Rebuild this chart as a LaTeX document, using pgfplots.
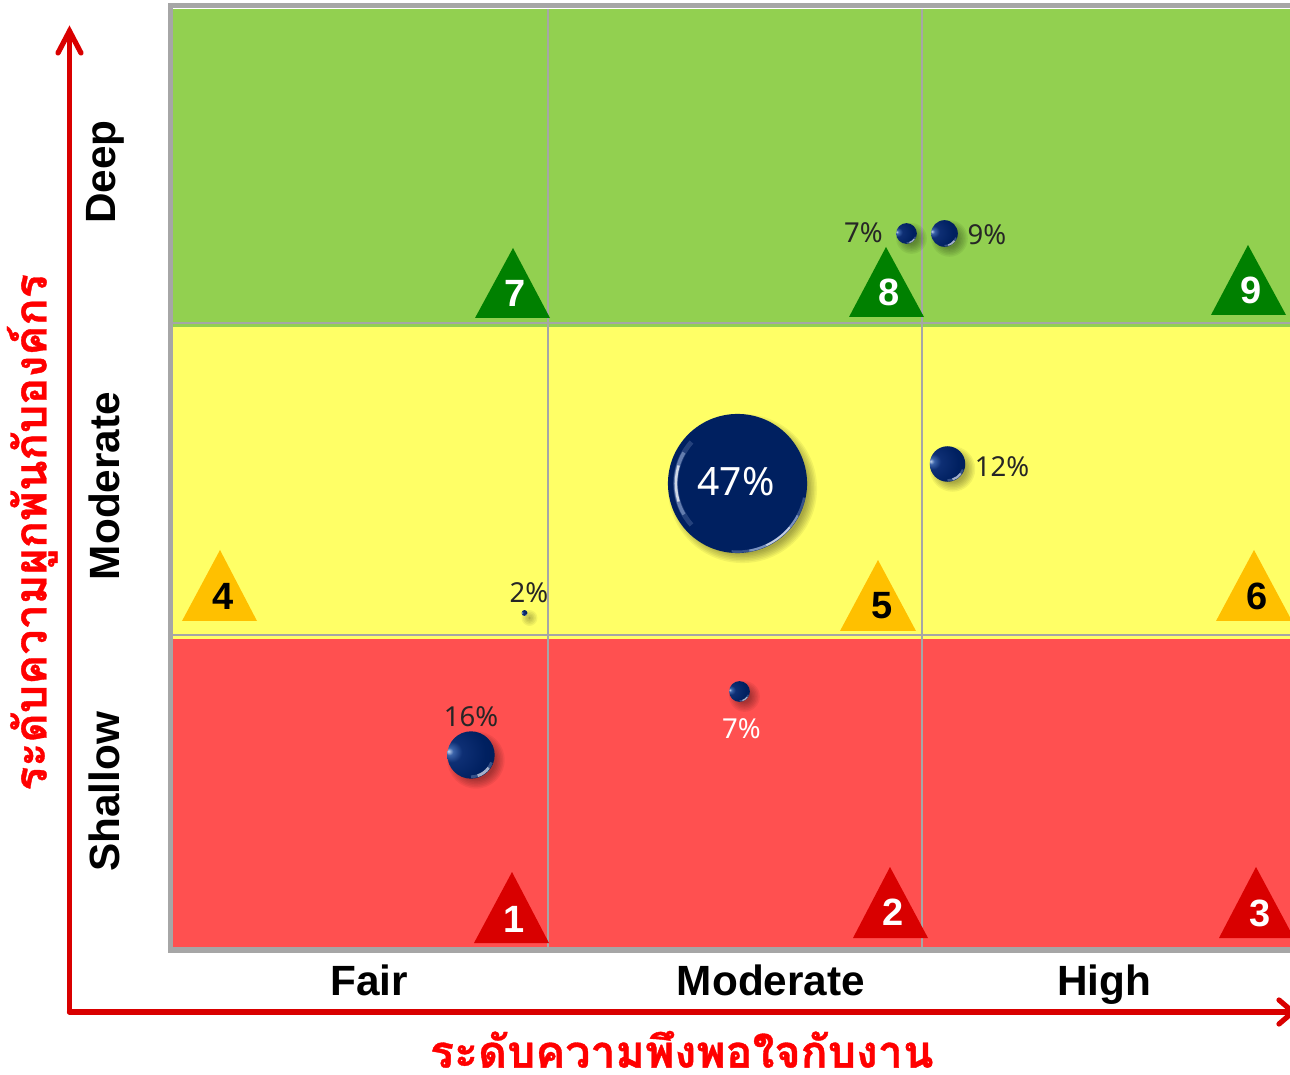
\documentclass[border=0pt]{standalone}
\usepackage{fontspec}
\setmainfont{Liberation Sans}
\newfontfamily\valuefont{Noto Sans}
\newfontfamily\thaifont[Script=Thai,FakeBold=0.8]{Loma}
\usepackage{pgfplots}
\usepackage{pgfplotstable}
\pgfplotsset{compat=1.18}

\definecolor{zoneGreen}{HTML}{92D050}
\definecolor{zoneYellow}{HTML}{FFFF66}
\definecolor{zoneRed}{HTML}{FF5050}
\definecolor{frameGray}{HTML}{A6A6A6}
\definecolor{arrowRed}{HTML}{D90000}
\definecolor{triRed}{HTML}{D90000}
\definecolor{triAmber}{HTML}{FFC000}
\definecolor{triGreen}{HTML}{008000}
\definecolor{navy}{HTML}{002060}
\definecolor{navyDeep}{HTML}{001A50}
\definecolor{navyEdge}{HTML}{00103A}
\definecolor{ballGlint}{HTML}{C8D8F0}
\definecolor{ballSoft}{HTML}{3A62A8}
\definecolor{ballMid}{HTML}{0E2F74}
\definecolor{rimBlue}{HTML}{B4C8EC}
\definecolor{labelDark}{HTML}{262626}

% Shadings for the two bubble styles
\pgfdeclareradialshading{glossball}{\pgfpoint{-24bp}{4bp}}{%
  color(0bp)=(ballGlint);
  color(4bp)=(ballSoft);
  color(11bp)=(ballMid);
  color(30bp)=(navy);
  color(58bp)=(navyDeep);
  color(75bp)=(navyEdge)}
\pgfdeclareradialshading{glossdisc}{\pgfpointorigin}{%
  color(0bp)=(navy);
  color(43bp)=(navy);
  color(47bp)=(navyDeep);
  color(50bp)=(navyEdge)}

% Soft drop shadow: stacked translucent circles
\newcommand{\softshadow}{%
  \pgfscope
    \pgfsetfillcolor{black}%
    \pgfsetfillopacity{0.055}%
    \foreach \d in {5,3.5,2,0.5,-1,-2.5,-4}{%
      \pgfpathcircle{\pgfpoint{5pt}{-5pt}}{max(\pgfplotmarksize+\d pt,0.6pt)}%
      \pgfusepath{fill}%
    }%
  \endpgfscope}

\newcommand{\rimarc}[6]{% start, end, radius factor, width factor, colour, opacity
  \pgfscope
    \pgfsetstrokecolor{#5}%
    \pgfsetstrokeopacity{#6}%
    \pgfsetlinewidth{#4*\pgfplotmarksize}%
    \pgfpathmoveto{\pgfpointpolar{#1}{#3*\pgfplotmarksize}}%
    \pgfpatharc{#1}{#2}{#3*\pgfplotmarksize}%
    \pgfusepath{stroke}%
  \endpgfscope}

\pgfdeclareplotmark{glossy sphere}{%
  \softshadow
  \pgfscope
    \pgfpathcircle{\pgfpointorigin}{\pgfplotmarksize}%
    \pgfshadepath{glossball}{0}%
    \pgfusepath{discard}%
  \endpgfscope
  \rimarc{-90}{-20}{0.92}{0.12}{rimBlue}{0.3}%
  \rimarc{-72}{-36}{0.92}{0.12}{white}{0.55}%
}
\pgfdeclareplotmark{glossy disc}{%
  \softshadow
  \pgfscope
    \pgfpathcircle{\pgfpointorigin}{\pgfplotmarksize}%
    \pgfshadepath{glossdisc}{0}%
    \pgfusepath{discard}%
  \endpgfscope
  \rimarc{138}{222}{0.89}{0.07}{rimBlue}{0.2}%
  \rimarc{150}{210}{0.89}{0.05}{rimBlue}{0.45}%
  \rimarc{163}{197}{0.885}{0.035}{white}{0.7}%
  \rimarc{-95}{-12}{0.98}{0.035}{rimBlue}{0.3}%
  \rimarc{-80}{-28}{0.98}{0.03}{rimBlue}{0.55}%
  \rimarc{-65}{-40}{0.98}{0.025}{white}{0.55}%
}

% Bubble positions and their percentages; lx, ly place the value label
\pgfplotstableread{
x      y      v   lx     ly
944.5  840.5  9   42.5   -1.5
906.5  840.5  7   -43    0.5
947.5  610    12  54.5   -3
524.5  461    2   4.5    20
471    319    16  0      38
}\labelledDark
\pgfplotstableread{
x      y      v   lx     ly
739.5  382.5  7   2      -37.5
}\labelledWhite
\pgfplotstableread{
x      y      v   lx     ly
737.5  590.5  47  -1.5   1.5
}\labelledLarge

\pgfplotsset{
  bubble/.style={
    only marks, scatter, forget plot,
    point meta=\thisrow{v},
    visualization depends on={1.48*\thisrow{v} \as \rad},
    visualization depends on={\thisrow{lx} \as \lx},
    visualization depends on={\thisrow{ly} \as \ly},
    nodes near coords*={\pgfmathprintnumber[fixed,precision=0]{\pgfplotspointmeta}\%},
    nodes near coords style={anchor=center, inner sep=0pt, xshift=\lx pt, yshift=\ly pt},
    scatter/@pre marker code/.append style={/tikz/mark size=\rad},
  },
  zone/.style={forget plot, draw=none, fill=#1},
  tri/.style={forget plot, draw=none, fill=#1},
  redarrow/.style={forget plot, arrowRed, line width=5.2pt, line cap=round, line join=miter},
}

\begin{document}
\begin{tikzpicture}
\useasboundingbox (-172pt,-126pt) rectangle (1118pt,948pt);
\begin{axis}[
  scale only axis, width=1118pt, height=943pt,
  xmin=172, xmax=1290, ymin=126, ymax=1069,
  clip=false,
  axis line style={draw=none},
  major tick length=0pt,
  /pgf/number format/assume math mode=true,
  xtick={369,771,1104},
  xticklabels={Fair,Moderate,High},
  ytick={282,588,902},
  yticklabels={Shallow,Moderate,\raisebox{4pt}{Deep}},
  tick label style={font=\fontsize{42.3}{42}\selectfont\bfseries, text=black},
  xticklabel style={anchor=base, yshift=-47pt},
  yticklabel style={rotate=90, anchor=base, yshift=52pt},
  xlabel={\thaifont\bfseries ระดับความพึงพอใจกับงาน},
  xlabel style={at={(axis description cs:0.456,-0.1075)}, anchor=center,
    inner sep=0pt, text=red, font=\fontsize{44.7}{45}\selectfont},
  ylabel={\thaifont\bfseries ระดับความผูกพันกับองค์กร},
  ylabel style={at={(axis description cs:-0.125,0.4406)}, anchor=center, rotate=0,
    inner sep=0pt, text=red, font=\fontsize{45}{45}\selectfont},
]
% Frame
\addplot[zone=frameGray] coordinates {(168,1071)(1290,1071)(1290,1066)(168,1066)} --cycle;
\addplot[zone=frameGray] coordinates {(168,1071)(173,1071)(173,121)(168,121)} --cycle;
\addplot[zone=frameGray] coordinates {(168,127)(1290,127)(1290,121)(168,121)} --cycle;

% Engagement bands
\addplot[zone=zoneGreen]  coordinates {(173,1065)(1290,1065)(1290,747)(173,747)} --cycle;
\addplot[zone=zoneYellow] coordinates {(173,747)(1290,747)(1290,435)(173,435)} --cycle;
\addplot[zone=zoneRed]    coordinates {(173,435)(1290,435)(1290,127)(173,127)} --cycle;

% Dividers
\addplot[forget plot, frameGray, line width=2.5pt] coordinates {(173,751)(1290,751)};
\addplot[forget plot, frameGray, line width=2pt]   coordinates {(173,439)(1290,439)};
\addplot[forget plot, frameGray, line width=2pt]   coordinates {(548,1065)(548,127)};
\addplot[forget plot, frameGray, line width=2pt]   coordinates {(921.5,1065)(921.5,127)};

% Numbered cell markers
\addplot[tri=triGreen] coordinates {(475,756)(550,756)(513,826)} --cycle;
\addplot[tri=triGreen] coordinates {(849,757)(924,757)(886,827)} --cycle;
\addplot[tri=triGreen] coordinates {(1211,759)(1286,759)(1248,829)} --cycle;
\addplot[tri=triAmber] coordinates {(182,453)(257,453)(220,524)} --cycle;
\addplot[tri=triAmber] coordinates {(840,443)(916,443)(878,514)} --cycle;
\addplot[tri=triAmber] coordinates {(1216,453)(1292,453)(1254,524)} --cycle;
\addplot[tri=triRed]   coordinates {(474,131)(549,131)(512,202)} --cycle;
\addplot[tri=triRed]   coordinates {(853,136)(928,136)(890,207)} --cycle;
\addplot[tri=triRed]   coordinates {(1219,136)(1294,136)(1256,207)} --cycle;

\tikzset{cellnum/.style={font=\fontsize{38}{38}\selectfont\bfseries, inner sep=0pt, text=#1}}
\node[cellnum=white] at (axis cs:515,781) {7};
\node[cellnum=white] at (axis cs:889,782) {8};
\node[cellnum=white] at (axis cs:1251,784) {9};
\node[cellnum=black] at (axis cs:223,478) {4};
\node[cellnum=black] at (axis cs:882,468) {5};
\node[cellnum=black] at (axis cs:1257,478) {6};
\node[cellnum=white] at (axis cs:514,155) {1};
\node[cellnum=white] at (axis cs:893,162) {2};
\node[cellnum=white] at (axis cs:1260,161) {3};

% Bubbles
\addplot[bubble, mark=glossy sphere,
  nodes near coords style={text=labelDark, font=\valuefont\fontsize{27.5}{27}\selectfont}]
  table {\labelledDark};
\addplot[bubble, mark=glossy sphere,
  nodes near coords style={text=white, font=\valuefont\fontsize{27.5}{27}\selectfont}]
  table {\labelledWhite};
\addplot[bubble, mark=glossy disc,
  nodes near coords style={text=white, font=\valuefont\fontsize{39}{39}\selectfont}]
  table {\labelledLarge};

% Red arrows along the two outer scales
\addplot[redarrow] coordinates {(69.5,62)(69.5,1040)};
\addplot[redarrow] coordinates {(58,1021)(69.5,1043)(81,1021)};
\addplot[redarrow] coordinates {(69.5,62)(1288,62)};
\addplot[redarrow] coordinates {(1279,74)(1293,62)(1279,50)};
\end{axis}
\end{tikzpicture}
\end{document}
